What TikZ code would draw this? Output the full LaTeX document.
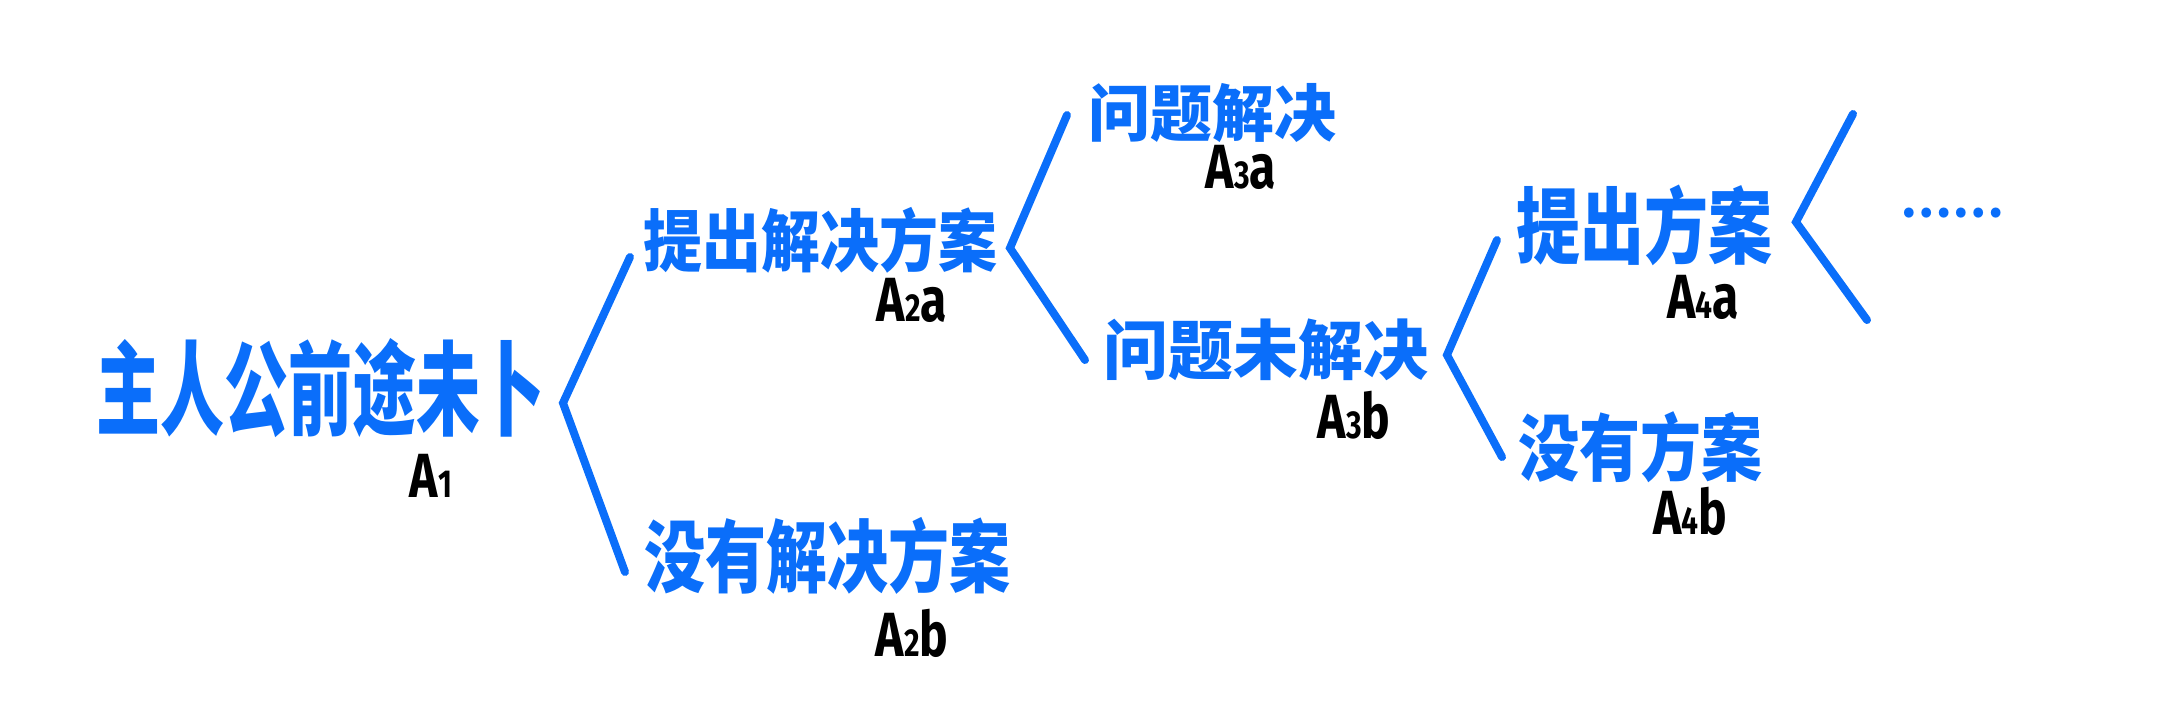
\documentclass[tikz,border=0pt]{standalone}
\usepackage{fontspec}
\newfontfamily\cjk{Noto Sans CJK SC}
\newfontfamily\labfont{Fira Sans}
\definecolor{myblue}{RGB}{10,110,250}
\newcommand\zhsize[1]{\fontsize{#1}{#1}\selectfont}
\newcommand\lbl[2]{\scalebox{1}[1.3]{A{\zhsize{30}#1}#2}}
\begin{document}
\begin{tikzpicture}[x=1pt,y=-1pt,
  zh/.style={text=myblue, inner sep=0pt, font=\cjk\bfseries},
  lab/.style={text=black, inner sep=0pt, font=\labfont\bfseries\zhsize{48}},
  br/.style={draw=myblue, line width=8pt, line cap=round, line join=miter}]
\useasboundingbox (0,0) rectangle (2180,710);
% texts
\node[zh, font=\cjk\bfseries\zhsize{64}] (t1) at (320,388) {\scalebox{1}[1.6]{主人公前途未卜}};
\node[zh, font=\cjk\bfseries\zhsize{59}] (t2a) at (820,240) {\scalebox{1}[1.15]{提出解决方案}};
\node[zh, font=\cjk\bfseries\zhsize{61}] (t2b) at (827,556) {\scalebox{1}[1.3]{没有解决方案}};
\node[zh, font=\cjk\bfseries\zhsize{62}] (t3a) at (1212,113) {\scalebox{1}[1.0]{问题解决}};
\node[zh, font=\cjk\bfseries\zhsize{65}] (t3b) at (1266,350) {\scalebox{1}[1.0]{问题未解决}};
\node[zh, font=\cjk\bfseries\zhsize{64}] (t4a) at (1644,225) {\scalebox{1}[1.3]{提出方案}};
\node[zh, font=\cjk\bfseries\zhsize{61}] (t4b) at (1640,447) {\scalebox{1}[1.2]{没有方案}};
\node[zh, font=\cjk\bfseries\zhsize{46}] (dots) at (1952,213) {……};
% labels
\node[lab] (l1) at (431,476) {\lbl{1}{}};
\node[lab] (l2a) at (912,300) {\lbl{2}{a}};
\node[lab] (l2b) at (912,633) {\lbl{2}{b}};
\node[lab] (l3a) at (1241,167) {\lbl{3}{a}};
\node[lab] (l3b) at (1354,415) {\lbl{3}{b}};
\node[lab] (l4a) at (1703,297) {\lbl{4}{a}};
\node[lab] (l4b) at (1690,511) {\lbl{4}{b}};
% bracket points
\coordinate (b1t) at (630,257); \coordinate (b1v) at (563,403); \coordinate (b1b) at (625,572);
\coordinate (b2t) at (1067,115); \coordinate (b2v) at (1010,248); \coordinate (b2b) at (1085,360);
\coordinate (b3t) at (1497,240); \coordinate (b3v) at (1447,355); \coordinate (b3b) at (1502,457);
\coordinate (b4t) at (1853,114); \coordinate (b4v) at (1796,222); \coordinate (b4b) at (1867,320);
\draw[br] (b1t) -- (b1v) -- (b1b);
\draw[br] (b2t) -- (b2v) -- (b2b);
\draw[br] (b3t) -- (b3v) -- (b3b);
\draw[br] (b4t) -- (b4v) -- (b4b);
\end{tikzpicture}
\end{document}
